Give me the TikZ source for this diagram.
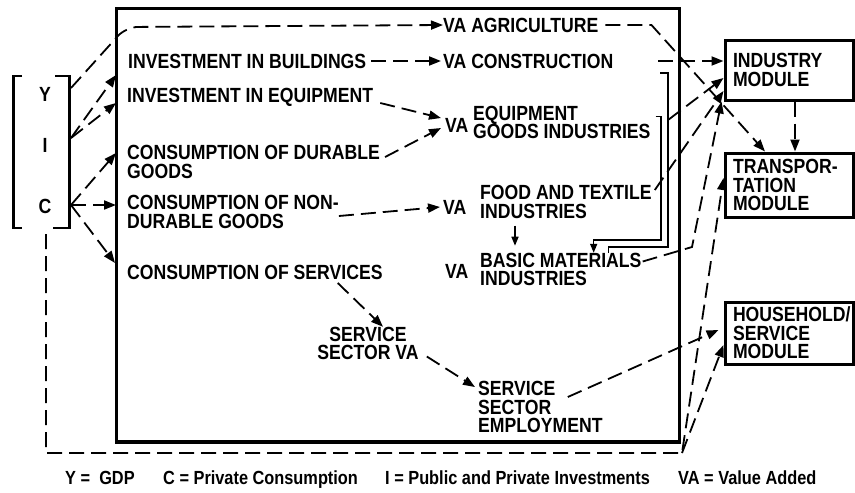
\documentclass[tikz,border=0pt]{standalone}
\usepackage{fontspec}
\setmainfont{Liberation Sans}[FakeStretch=0.86]
\usetikzlibrary{arrows.meta, positioning, calc}

\begin{document}
\begin{tikzpicture}[x=1pt, y=-1pt,
    lbl/.style={anchor=west, inner sep=0pt, align=left, font=\bfseries\fontsize{20.5}{18.5}\selectfont},
    key/.style={anchor=base west, inner sep=0pt, font=\bfseries\fontsize{19}{21}\selectfont},
    module/.style={draw, line width=3pt, inner xsep=8pt, inner ysep=0pt, text width=112pt, align=left, font=\bfseries\fontsize{20.5}{18.5}\selectfont},
    flow/.style={line width=1.8pt, dash pattern=on 15pt off 7pt, -{Triangle[length=12pt, width=9pt]}},
    wire/.style={line width=1.6pt},
    brk/.style={line width=2.5pt}
]
\useasboundingbox (0,0) rectangle (855,493);

% main frame
\draw[line width=3.5pt] (116.5,8.5) rectangle (679.5,442);

% bracket with Y, I, C
\draw[brk] (22,76) -- (13.5,76) -- (13.5,228) -- (22,228);
\draw[brk] (55,76) -- (69.5,76) -- (69.5,228) -- (53,228);
\node[lbl, anchor=center] (ly) at (45,94) {Y};
\node[lbl, anchor=center] (li) at (45,145) {I};
\node[lbl, anchor=center] (lc) at (45,206) {C};

\coordinate (yj) at (71,88);
\coordinate (ij) at (71,138);
\coordinate (cj) at (71,205);
\coordinate (ybase) at (46,234);
\coordinate (loopc) at (682,453);
\coordinate (inbld) at (116,75);
\coordinate (ineq) at (116,103);
\coordinate (indur) at (116,153);
\coordinate (innon) at (116,205);
\coordinate (insrv) at (115,263);
\coordinate (eqdrop) at (661,240);
\coordinate (cndrop) at (668,247);
\coordinate (basicbend) at (692,247);

% labels in the frame
\node[lbl] (agri) at (443,25) {VA AGRICULTURE};
\node[lbl] (bldg) at (128,61) {INVESTMENT IN BUILDINGS};
\node[lbl] (constr) at (443,61) {VA CONSTRUCTION};
\node[lbl] (equip) at (127,97) {INVESTMENT IN EQUIPMENT};
\node[lbl] (vaeq) at (445,125) {VA};
\node[lbl] (eqind) at (473,122.5) {EQUIPMENT\\GOODS INDUSTRIES};
\node[lbl] (durable) at (127,162) {CONSUMPTION OF DURABLE\\GOODS};
\node[lbl] (nondur) at (127,212) {CONSUMPTION OF NON-\\DURABLE GOODS};
\node[lbl] (vafood) at (443,207) {VA};
\node[lbl] (food) at (480,202) {FOOD AND TEXTILE\\INDUSTRIES};
\node[lbl] (vabasic) at (445,271) {VA};
\node[lbl] (basic) at (480,269.5) {BASIC MATERIALS\\INDUSTRIES};
\node[lbl] (services) at (127,272) {CONSUMPTION OF SERVICES};
\node[lbl, anchor=center, align=center] (svva) at (368,343.5) {SERVICE\\SECTOR VA};
\node[lbl] (svemp) at (478,407) {SERVICE\\SECTOR\\EMPLOYMENT};

% modules
\node[module, minimum height=60pt] (industry) at (789,70) {INDUSTRY\\MODULE};
\node[module, minimum height=64pt] (transport) at (789,185) {TRANSPOR-\\TATION\\MODULE};
\node[module, minimum height=62pt] (household) at (789,333) {HOUSEHOLD/\\SERVICE\\MODULE};

% legend
\node[key] (kY) at (65,484) {Y = \ GDP};
\node[key] (kC) at (163,484) {C = Private Consumption};
\node[key] (kI) at (385,484) {I = Public and Private Investments};
\node[key] (kVA) at (678,484) {VA = Value Added};

% from the bracket
\draw[flow, rounded corners=12pt] (yj) -- (126,27) -- (agri.west);
\draw[flow] (ij) -- (inbld);
\draw[flow] (ij) -- (ineq);
\draw[flow] (cj) -- (indur);
\draw[flow] (cj) -- (innon);
\draw[flow] (cj) -- (insrv);

% demand to value added
\draw[flow] ([xshift=5pt]bldg.east) -- ([xshift=-2pt]constr.west);
\draw[flow] ([shift={(7pt,-6pt)}]equip.east) -- ([shift={(-4pt,7pt)}]vaeq.west);
\draw[flow] ([shift={(5pt,5pt)}]durable.east) -- ([shift={(-4pt,-3pt)}]vaeq.west);
\draw[flow] ([yshift=-4pt]nondur.east) -- ([xshift=-3pt]vafood.west);
\draw[wire, -{Triangle[length=9pt, width=7pt]}] ([shift={(35pt,-7pt)}]food.south west) -- ++(0,20);
\draw[wire] ([shift={(47pt,-12pt)}]constr.east) -| (cndrop) -| ([xshift=-33pt]basic.north east);
\draw[wire, -{Triangle[length=9pt, width=7pt]}] ([shift={(5pt,6pt)}]eqind.east) -| (eqdrop) -| ([xshift=-48pt]basic.north east);

% to the modules
\draw[flow] ([xshift=45pt]constr.east) -- (industry.west |- constr.east);
\draw[flow] ([shift={(18pt,3pt)}]eqind.east) -- ([yshift=-8pt]industry.west);
\draw[flow] ([shift={(3pt,12pt)}]food.east) -- ([yshift=-21pt]industry.west);
\draw[flow] ([shift={(1pt,8pt)}]basic.east) -- (basicbend) -- ([xshift=-2pt]industry.south west);
\draw[flow] ([xshift=7pt]agri.east) -- ++(46,0) -- ([xshift=-24pt]transport.north);
\draw[flow] ([xshift=6pt]industry.south) -- ([xshift=6pt]transport.north);
\draw[flow] (ybase) |- (loopc) -- ([yshift=7pt]transport.west);
\draw[flow] (loopc) -- ([yshift=-12pt]household.west);

% services
\draw[flow] ([shift={(-45pt,-11pt)}]services.east) -- ([xshift=15pt]svva.north);
\draw[flow] ([shift={(8pt,-13pt)}]svva.east) -- ([shift={(-3pt,-6pt)}]svemp.north west);
\draw[flow] ([shift={(-35pt,10pt)}]svemp.east) -- ([shift={(-5pt,3pt)}]household.west);
\end{tikzpicture}
\end{document}
